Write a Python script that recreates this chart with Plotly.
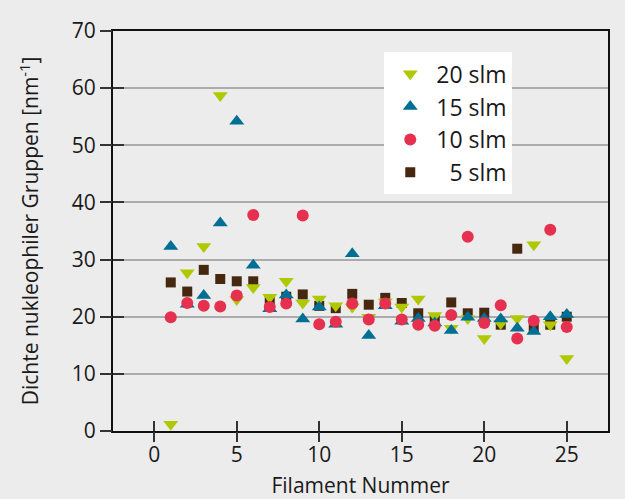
import plotly.graph_objects as go

filament = list(range(1, 26))

slm20 = [1.2, 27.7, 32.3, 58.7, 23.0, 25.1, 23.4, 26.2, 22.4, 23.1, 21.9, 21.7, 19.9,
         22.6, 21.7, 23.1, 20.2, 18.0, 19.7, 16.2, 18.8, 19.7, 32.6, 18.6, 12.7]
slm15 = [32.3, 22.2, 23.7, 36.4, 54.2, 29.0, 21.4, 23.8, 19.6, 21.7, 18.7, 31.0, 16.7,
         21.9, 19.2, 19.7, 18.9, 17.6, 19.9, 19.7, 19.6, 18.0, 17.4, 20.0, 20.4]
slm10 = [19.9, 22.4, 21.9, 21.8, 23.7, 37.8, 21.7, 22.3, 37.7, 18.7, 19.1, 22.3, 19.5,
         22.3, 19.5, 18.6, 18.4, 20.3, 34.0, 18.9, 22.0, 16.2, 19.3, 35.2, 18.2]
slm5 = [26.0, 24.4, 28.2, 26.6, 26.2, 26.2, 22.7, 23.5, 23.9, 21.9, 21.5, 24.0, 22.1,
        23.3, 22.4, 20.6, 19.6, 22.5, 20.6, 20.7, 18.6, 31.9, 18.0, 18.6, 20.0]

x_ticks = [0, 5, 10, 15, 20, 25]
y_ticks = [0, 10, 20, 30, 40, 50, 60, 70]

FONT = "Open Sans"
FS = 21
TXT = "#1a1a1a"
BG = "#ececec"
TICKC = "#333"

fig = go.Figure()

# draw order: 5 slm at bottom, red on top
fig.add_trace(go.Scatter(x=filament, y=slm5, mode="markers", name="\u20075 slm",
                         legendrank=4, legendgroup="d",
                         marker=dict(symbol="square", size=10, color="#45280f")))
fig.add_trace(go.Scatter(x=filament, y=slm20, mode="markers", name="20 slm",
                         legendrank=1, legendgroup="a",
                         marker=dict(symbol="triangle-down", size=13, color="#b0c800")))
fig.add_trace(go.Scatter(x=filament, y=slm15, mode="markers", name="15 slm",
                         legendrank=2, legendgroup="b",
                         marker=dict(symbol="triangle-up", size=13, color="#006f94")))
fig.add_trace(go.Scatter(x=filament, y=slm10, mode="markers", name="10 slm",
                         legendrank=3, legendgroup="c",
                         marker=dict(symbol="circle", size=12, color="#e6304f")))

# invisible traces to activate overlaying axes used for tick marks crossing the axis
fig.add_trace(go.Scatter(x=[None], y=[None], xaxis="x2", yaxis="y2", showlegend=False,
                         hoverinfo="skip"))
fig.add_trace(go.Scatter(x=[None], y=[None], xaxis="x3", yaxis="y3", showlegend=False,
                         hoverinfo="skip"))

tick_only = dict(showticklabels=False, showgrid=False, zeroline=False, showline=False,
                 automargin=False, tickwidth=1.5, tickcolor=TICKC)

fig.update_layout(
    width=625, height=499,
    paper_bgcolor=BG, plot_bgcolor=BG,
    margin=dict(l=113, r=17, t=31, b=68),
    font=dict(family=FONT, size=FS, color=TXT),
    showlegend=True,
    legend=dict(x=0.548, y=0.947, xanchor="left", yanchor="top",
                bgcolor="white", borderwidth=0, tracegroupgap=0,
                font=dict(family=FONT, size=23, color=TXT),
                itemwidth=42),
    xaxis=dict(range=[-2.5, 27.5], tickvals=x_ticks, ticks="outside", ticklen=4,
               tickwidth=1.5, tickcolor=TICKC, showgrid=False, zeroline=False,
               showline=True, linecolor="#111", linewidth=2, mirror=True,
               automargin=False,
               tickfont=dict(family=FONT, size=FS, color=TXT),
               title=dict(text="Filament Nummer", standoff=12,
                          font=dict(family=FONT, size=FS, color=TXT))),
    yaxis=dict(range=[0, 70], tickvals=y_ticks, ticks="outside", ticklen=11,
               tickwidth=1.5, tickcolor=TICKC, showgrid=True, gridcolor="#ababab",
               gridwidth=1.5, zeroline=False,
               showline=True, linecolor="#111", linewidth=2, mirror=True,
               automargin=False,
               tickfont=dict(family=FONT, size=FS, color=TXT),
               title=dict(text="Dichte nukleophiler Gruppen [nm<sup>-1</sup>]", standoff=27,
                          font=dict(family=FONT, size=FS, color=TXT))),
    xaxis2=dict(overlaying="x", matches="x", range=[-2.5, 27.5], tickvals=x_ticks,
                ticks="inside", ticklen=10, side="bottom", **tick_only),
    yaxis2=dict(overlaying="y", matches="y", range=[0, 70], tickvals=y_ticks,
                ticks="inside", ticklen=11, side="left", **tick_only),
    xaxis3=dict(overlaying="x", matches="x", range=[-2.5, 27.5], tickvals=x_ticks,
                ticks="outside", ticklen=10, side="bottom", **tick_only),
    yaxis3=dict(overlaying="y", matches="y", range=[0, 70], tickvals=y_ticks,
                ticks="outside", ticklen=11, side="left", **tick_only),
)

fig.write_html(
    "out.html",
    config={"displayModeBar": False},
    post_script="document.body.style.margin='0';document.body.style.background='%s';" % BG,
)
